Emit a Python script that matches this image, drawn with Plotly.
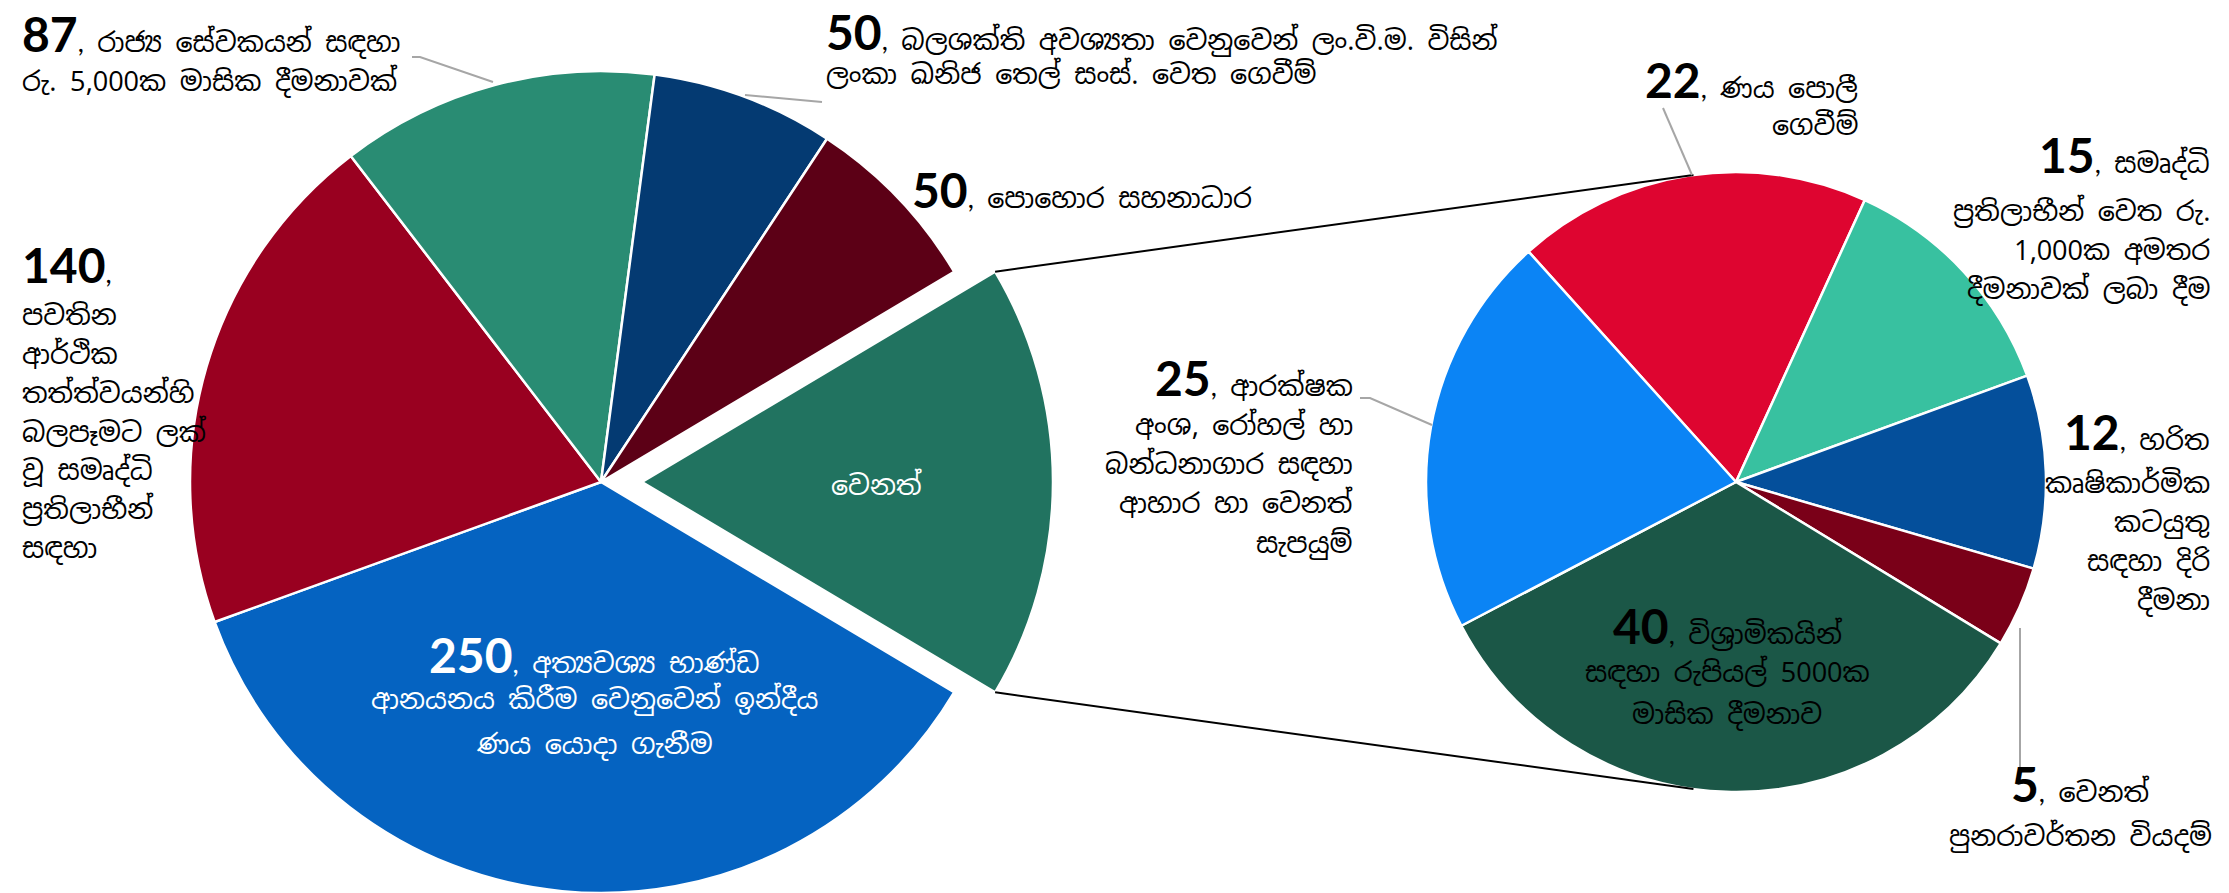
import math
import plotly.graph_objects as go

# ---------------- data ----------------
main_values = [119, 250, 140, 87, 50, 50]
main_categories = [
    "වෙනත්",
    "අත්‍යවශ්‍ය භාණ්ඩ\nආනයනය කිරීම වෙනුවෙන් ඉන්දීය\nණය යොදා ගැනීම",
    "\nපවතින\nආර්ථික\nතත්ත්වයන්හි\nබලපෑමට ලක්\nවූ සමෘද්ධි\nප්‍රතිලාභීන්\nසඳහා",
    "රාජ්‍ය සේවකයන් සඳහා\nරු. 5,000ක මාසික දීමනාවක්",
    "බලශක්ති අවශ්‍යතා වෙනුවෙන් ලං.වි.ම. විසින්\nලංකා ඛනිජ තෙල් සංස්. වෙත ගෙවීම්",
    "පොහොර සහනාධාර",
]
main_colors = ["#217360", "#0563C1", "#990020", "#298C73", "#043A72", "#5C0016"]

sub_values = [22, 15, 12, 5, 40, 25]
sub_categories = [
    "ණය පොලී\nගෙවීම්",
    "සමෘද්ධි\nප්‍රතිලාභීන් වෙත රු.\n1,000ක අමතර\nදීමනාවක් ලබා දීම",
    "හරිත\nකෘෂිකාර්මික\nකටයුතු\nසඳහා දිරි\nදීමනා",
    "වෙනත්\nපුනරාවර්තන වියදම්",
    "විශ්‍රාමිකයින්\nසඳහා රුපියල් 5000ක\nමාසික දීමනාව",
    "ආරක්ෂක\nඅංශ, රෝහල් හා\nබන්ධනාගාර සඳහා\nආහාර හා වෙනත්\nසැපයුම්",
]
sub_colors = ["#DE0530", "#38C1A0", "#044F9B", "#7A0018", "#1B5747", "#0B84F5"]

# ---------------- geometry ----------------
W, H = 2229, 893
SIN_FONT = "Noto Sans Sinhala, Iskoola Pota, Noto Sans, sans-serif"
NUM_FONT = "Lato, Open Sans, sans-serif"


def px(x):
    return x / W


def py(y):
    return 1 - y / H


main_cx, main_cy, main_r = 601, 482, 411
explode = 41
sub_cx, sub_cy, sub_r = 1736, 482, 310

other_frac = main_values[0] / sum(main_values)
main_rotation = 90 - other_frac * 180
sub_rotation = -42


def dom(cx, cy, r):
    return dict(x=[px(cx - r), px(cx + r)], y=[max(0, py(cy + r)), py(cy - r)])


transparent = "rgba(0,0,0,0)"

fig = go.Figure()
# main pie (other slice hidden)
fig.add_trace(go.Pie(
    values=main_values, labels=[c.replace("\n", " ") for c in main_categories],
    sort=False, direction="clockwise", rotation=main_rotation,
    marker=dict(colors=[transparent] + main_colors[1:],
                line=dict(color=[transparent] + ["white"] * 5, width=2.5)),
    textinfo="none", hoverinfo="label+value", showlegend=False,
    domain=dom(main_cx, main_cy, main_r),
))
# exploded "other" slice
fig.add_trace(go.Pie(
    values=main_values, labels=[c.replace("\n", " ") for c in main_categories],
    sort=False, direction="clockwise", rotation=main_rotation,
    marker=dict(colors=[main_colors[0]] + [transparent] * 5,
                line=dict(color=["white"] + [transparent] * 5, width=2.5)),
    textinfo="none", hoverinfo="label+value", showlegend=False,
    domain=dom(main_cx + explode, main_cy, main_r),
))
# second pie
fig.add_trace(go.Pie(
    values=sub_values, labels=[c.replace("\n", " ") for c in sub_categories],
    sort=False, direction="clockwise", rotation=sub_rotation,
    marker=dict(colors=sub_colors, line=dict(color="white", width=2.5)),
    textinfo="none", hoverinfo="label+value", showlegend=False,
    domain=dom(sub_cx, sub_cy, sub_r),
))

# ---------------- connector lines (tangents) ----------------
half = other_frac * math.pi
ocx = main_cx + explode
for sgn in (1, -1):
    ex = ocx + main_r * math.cos(half)
    ey = main_cy - sgn * main_r * math.sin(half)
    dx, dy = ex - sub_cx, -(ey - sub_cy)
    d = math.hypot(dx, dy)
    base = math.atan2(dy, dx)
    ang = base - sgn * math.acos(sub_r / d)
    tx = sub_cx + sub_r * math.cos(ang)
    ty = sub_cy - sub_r * math.sin(ang)
    fig.add_shape(type="line", xref="paper", yref="paper",
                  x0=px(ex), y0=py(ey), x1=px(tx), y1=py(ty),
                  line=dict(color="black", width=2))

# ---------------- leader lines ----------------
leaders = [
    [(412, 57), (420, 57), (493, 82)],
    [(745, 95), (822, 102)],
    [(1663, 108), (1692, 175)],
    [(1360, 398), (1370, 398), (1432, 425)],
    [(2020, 628), (2020, 768)],
]
for pts in leaders:
    path = "M " + " L ".join(f"{px(x)},{py(y)}" for x, y in pts)
    fig.add_shape(type="path", xref="paper", yref="paper", path=path,
                  line=dict(color="#A6A6A6", width=2))

# ---------------- labels ----------------
SIN_SIZE = 27
NUM_SIZE = 48


def add_label(value, cat, x, y0, xanchor, gap, spacing, color="black", show_num=True):
    lines = cat.split("\n")
    for i, ln in enumerate(lines):
        if i == 0 and show_num:
            txt = f"<span style='font-family:{NUM_FONT};font-size:{NUM_SIZE}px'><b>{value}</b></span>" \
                  f"<span style='font-family:{NUM_FONT}'>,</span> {ln}"
            y = y0
        else:
            txt = ln
            y = y0 + (gap if show_num else 0) + (i - 1 if show_num else i) * spacing
        fig.add_annotation(x=px(x), y=py(y), xref="paper", yref="paper",
                           text=txt, showarrow=False, xanchor=xanchor, yanchor="middle",
                           font=dict(family=SIN_FONT, size=SIN_SIZE, color=color))


# main pie labels
add_label(main_values[0], main_categories[0], 876, 486, "center", 0, 0, color="white", show_num=False)
add_label(main_values[1], main_categories[1], 594, 654, "center", 45, 45, color="white")
add_label(main_values[2], main_categories[2], 20, 264, "left", 52, 38.7)
add_label(main_values[3], main_categories[3], 20, 34, "left", 48, 48)
add_label(main_values[4], main_categories[4], 824, 31, "left", 44, 44)
add_label(main_values[5], main_categories[5], 910, 189, "left", 0, 0)

# second pie labels
add_label(sub_values[0], sub_categories[0], 1860, 80, "right", 46, 40)
add_label(sub_values[1], sub_categories[1], 2212, 154, "right", 57, 39)
add_label(sub_values[2], sub_categories[2], 2212, 431, "right", 52, 39)
add_label(sub_values[3], sub_categories[3], 2080, 783, "center", 53, 40)
add_label(sub_values[4], sub_categories[4], 1727, 625, "center", 47, 42)
add_label(sub_values[5], sub_categories[5], 1355, 377, "right", 49, 39)

fig.update_layout(
    width=W, height=H,
    margin=dict(l=0, r=0, t=0, b=0),
    paper_bgcolor="white", plot_bgcolor="white",
    showlegend=False,
)

fig.write_html("out.html", config={"displayModeBar": False},
               post_script="document.body.style.margin='0px';")
